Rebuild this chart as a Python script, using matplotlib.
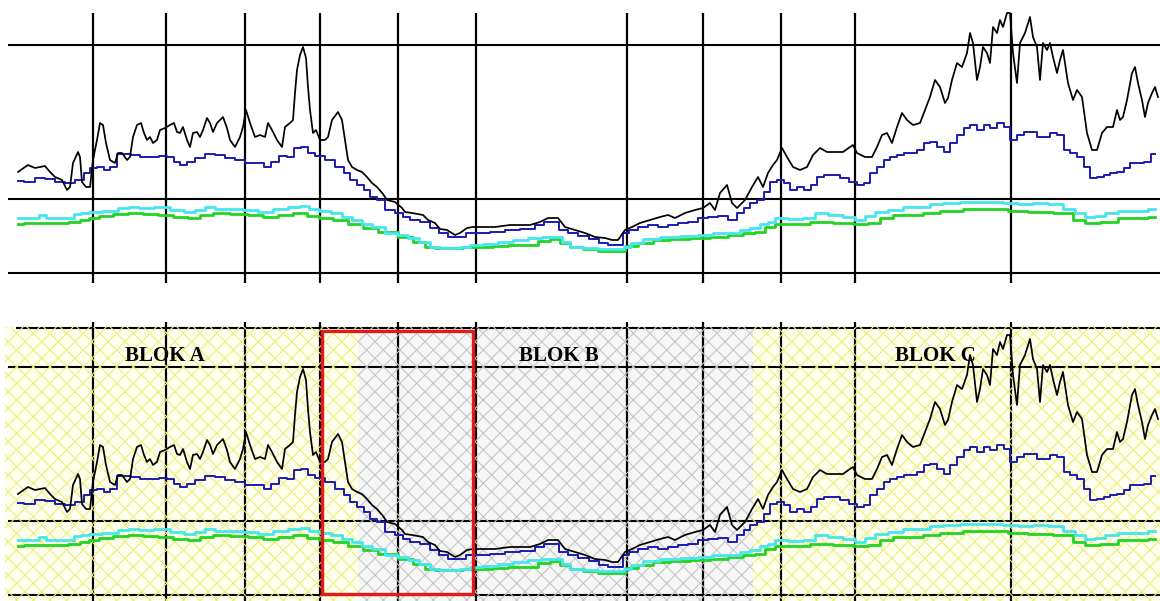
import matplotlib
matplotlib.use("Agg")
import matplotlib.pyplot as plt
from matplotlib.patches import Rectangle

# readings: day index and level of each series (arbitrary units)
black_t = [18, 25, 28, 35, 45, 50, 55, 62, 67, 70, 73, 78, 80, 82, 86, 90, 93, 97, 100, 103,
           106, 110, 115, 118, 122, 127, 130, 133, 137, 141, 144, 147, 150, 153, 157, 160, 165, 170, 174, 177,
           180, 183, 187, 190, 193, 197, 200, 203, 207, 210, 213, 217, 220, 223, 227, 230, 235, 240, 243, 246,
           250, 255, 260, 265, 268, 272, 277, 282, 285, 290, 293, 295, 297, 300, 303, 306, 308, 310, 313, 316,
           320, 325, 328, 332, 338, 342, 345, 348, 352, 357, 362, 367, 372, 377, 383, 387, 395, 402, 405, 412,
           423, 428, 435, 440, 447, 455, 460, 467, 473, 480, 495, 510, 530, 540, 548, 558, 565, 575, 585, 595,
           605, 612, 618, 625, 632, 640, 650, 660, 668, 675, 685, 695, 703, 710, 715, 720, 727, 732, 737, 745,
           752, 758, 763, 768, 773, 777, 782, 787, 793, 800, 807, 813, 820, 827, 835, 843, 850, 853, 857, 865,
           872, 877, 882, 887, 892, 897, 902, 907, 913, 920, 925, 930, 935, 940, 945, 948, 952, 957, 962, 967,
           970, 973, 977, 980, 983, 987, 990, 993, 997, 1000, 1003, 1007, 1010, 1013, 1017, 1020, 1025, 1030, 1033, 1037,
           1040, 1043, 1047, 1050, 1053, 1057, 1060, 1063, 1068, 1073, 1077, 1082, 1087, 1092, 1097, 1102, 1107, 1113, 1117, 1120,
           1123, 1127, 1132, 1135, 1138, 1142, 1145, 1148, 1152, 1155, 1158]
black_v = [128, 133, 135, 132, 134, 128, 123, 120, 110, 113, 137, 148, 143, 118, 113, 113, 140, 160, 177, 175,
           157, 140, 137, 147, 147, 140, 143, 163, 175, 177, 167, 160, 163, 157, 160, 170, 172, 175, 177, 168,
           167, 173, 160, 153, 167, 168, 163, 170, 182, 177, 168, 177, 180, 183, 172, 160, 153, 163, 173, 190,
           177, 163, 165, 163, 177, 170, 160, 153, 173, 177, 180, 207, 230, 245, 253, 242, 213, 190, 167, 170,
           160, 160, 163, 180, 188, 180, 160, 140, 133, 130, 128, 123, 117, 113, 106, 100, 98, 92, 88, 87,
           85, 80, 77, 71, 70, 65, 67, 72, 73, 73, 73, 75, 75, 78, 82, 82, 73, 70, 67, 63,
           62, 60, 60, 70, 73, 77, 80, 83, 85, 82, 87, 90, 92, 97, 90, 107, 115, 97, 92, 100,
           113, 123, 113, 127, 135, 140, 152, 143, 133, 130, 133, 145, 152, 148, 148, 148, 153, 155, 147, 143,
           143, 153, 165, 167, 157, 173, 187, 180, 175, 177, 190, 203, 220, 213, 197, 202, 220, 237, 233, 247,
           267, 257, 220, 233, 253, 247, 237, 273, 267, 280, 273, 287, 287, 247, 217, 257, 267, 283, 263, 253,
           220, 257, 250, 257, 243, 227, 240, 250, 217, 200, 210, 203, 167, 150, 150, 167, 173, 173, 190, 180,
           183, 200, 227, 233, 217, 200, 183, 197, 207, 213, 203]

blue_t = [18, 30, 40, 50, 60, 70, 80, 87, 93, 100, 107, 113, 120, 127, 135, 145, 155, 163, 170, 177,
          183, 190, 200, 210, 220, 230, 240, 250, 260, 267, 275, 283, 290, 297, 305, 310, 320, 330, 340, 347,
          353, 360, 367, 373, 380, 390, 400, 405, 415, 425, 435, 443, 453, 462, 470, 480, 500, 510, 530, 540,
          548, 555, 563, 573, 583, 595, 603, 613, 620, 625, 633, 643, 653, 663, 673, 683, 693, 703, 713, 723,
          733, 740, 747, 753, 760, 767, 773, 780, 787, 793, 800, 808, 813, 820, 827, 835, 845, 853, 860, 867,
          873, 880, 887, 893, 900, 907, 913, 920, 927, 933, 940, 947, 953, 960, 967, 973, 980, 987, 993, 1000,
          1007, 1013, 1020, 1027, 1033, 1040, 1047, 1053, 1060, 1067, 1073, 1080, 1087, 1093, 1100, 1107, 1113, 1120, 1127, 1133,
          1140, 1147, 1155]
blue_v = [119, 118, 122, 121, 118, 117, 120, 127, 132, 133, 130, 133, 146, 146, 145, 143, 143, 144, 143, 138,
          135, 138, 142, 146, 145, 142, 140, 137, 137, 133, 138, 144, 143, 152, 153, 147, 144, 140, 133, 127,
          120, 115, 110, 103, 100, 90, 87, 83, 80, 78, 72, 67, 63, 63, 67, 67, 68, 70, 71, 75,
          78, 78, 70, 67, 64, 61, 57, 55, 55, 67, 70, 73, 75, 73, 75, 77, 78, 82, 83, 84,
          80, 87, 92, 97, 100, 108, 118, 120, 117, 110, 113, 110, 115, 123, 125, 125, 122, 118, 115, 117,
          127, 133, 140, 143, 145, 147, 147, 150, 157, 158, 153, 148, 157, 165, 172, 175, 170, 175, 172, 177,
          173, 160, 165, 168, 168, 163, 163, 167, 165, 150, 147, 143, 133, 122, 123, 125, 127, 128, 132, 137,
          137, 138, 146]

cyan_t = [18, 35, 42, 50, 70, 77, 85, 93, 110, 125, 133, 145, 163, 177, 190, 200, 210, 220, 235, 250,
          265, 280, 295, 305, 313, 325, 337, 347, 357, 367, 377, 393, 403, 413, 425, 435, 445, 455, 465, 475,
          490, 505, 520, 535, 548, 558, 565, 575, 590, 605, 620, 627, 635, 650, 670, 690, 705, 720, 735, 745,
          755, 765, 770, 780, 795, 810, 820, 835, 850, 860, 870, 880, 895, 910, 925, 935, 950, 970, 995, 1010,
          1025, 1040, 1055, 1070, 1080, 1090, 1100, 1110, 1125, 1140, 1155]
cyan_v = [82, 82, 85, 82, 82, 86, 87, 88, 89, 92, 93, 92, 93, 90, 88, 90, 93, 91, 91, 90,
          88, 91, 93, 94, 91, 89, 87, 83, 80, 76, 73, 67, 65, 62, 58, 53, 52, 52, 53, 55,
          56, 58, 60, 62, 63, 63, 58, 53, 52, 51, 51, 53, 57, 61, 63, 64, 65, 67, 67, 70,
          72, 76, 78, 82, 81, 82, 87, 85, 83, 80, 84, 88, 90, 93, 93, 96, 97, 98, 98, 97,
          96, 97, 96, 91, 87, 83, 84, 87, 89, 89, 91]

green_t = [18, 30, 45, 60, 75, 85, 93, 105, 120, 135, 150, 165, 180, 195, 205, 220, 240, 255, 270, 285,
           300, 313, 325, 340, 355, 370, 385, 390, 405, 420, 430, 440, 455, 470, 485, 500, 515, 530, 545, 555,
           565, 575, 590, 605, 620, 630, 645, 660, 680, 700, 720, 735, 750, 760, 770, 780, 800, 820, 845, 860,
           875, 885, 900, 915, 930, 950, 975, 1000, 1015, 1040, 1065, 1080, 1090, 1110, 1125, 1140, 1155]
green_v = [76, 77, 77, 77, 78, 80, 82, 84, 86, 87, 86, 85, 83, 82, 85, 87, 86, 85, 83, 85,
           87, 84, 82, 80, 76, 72, 68, 68, 63, 58, 53, 52, 52, 53, 53, 54, 55, 55, 59, 61,
           57, 53, 51, 49, 49, 54, 57, 60, 61, 62, 63, 65, 67, 68, 73, 76, 76, 78, 77, 76,
           77, 82, 85, 85, 87, 89, 91, 91, 89, 88, 87, 80, 77, 78, 82, 82, 83]

# grid
grid_x = [93, 166, 245, 320, 398, 476, 627, 703, 781, 855, 1011]
grid_levels = [255, 101, 27]
upper_level = 294

# blocks of the lower panel
block_labels = ["BLOK A", "BLOK B", "BLOK C"]
block_edges = [5, 358, 753, 1160]
block_label_x = [165, 559, 935]
block_label_y = 266
window = (322, 473)

YELLOW_FACE, YELLOW_HATCH = "#ffffee", "#eded7c"
GREY_FACE, GREY_HATCH = "#f6f6f6", "#c6c6c6"

plt.rcParams["hatch.linewidth"] = 0.8

fig = plt.figure(figsize=(11.6, 6.01), dpi=100)
W, H = 1160, 601
ax_top = fig.add_axes([0, 1 - 300 / H, 1, 300 / H])
ax_bot = fig.add_axes([0, 0, 1, 301 / H])


def draw_series(ax):
    ax.plot(green_t, green_v, color="#22d422", lw=2.0, drawstyle="steps-mid", zorder=4)
    ax.plot(cyan_t, cyan_v, color="#45e6ee", lw=2.0, drawstyle="steps-mid", zorder=4)
    ax.plot(blue_t, blue_v, color="#1c1cb0", lw=1.4, drawstyle="steps-mid", zorder=4)
    ax.plot(black_t, black_v, color="black", lw=1.25, zorder=4)


# upper panel
ax_top.set_xlim(0, W)
ax_top.set_ylim(0, 300)
ax_top.axis("off")
ax_top.hlines(grid_levels, 8, W, color="black", lw=1.5, zorder=1)
ax_top.vlines(grid_x, 17, 287, color="black", lw=1.6, zorder=1)
draw_series(ax_top)

# lower panel
ax_bot.set_xlim(0, W)
ax_bot.set_ylim(21, 322)
ax_bot.axis("off")
styles = [(YELLOW_FACE, YELLOW_HATCH), (GREY_FACE, GREY_HATCH), (YELLOW_FACE, YELLOW_HATCH)]
for i, (face, hatch) in enumerate(styles):
    x0, x1 = block_edges[i], block_edges[i + 1]
    ax_bot.add_patch(Rectangle((x0, 0), x1 - x0, 295, facecolor=face, edgecolor="none", zorder=0))
    ax_bot.add_patch(Rectangle((x0, 0), x1 - x0, 295, facecolor="none", edgecolor=hatch,
                               lw=0, hatch="xx", zorder=2))
    ax_bot.text(block_label_x[i], block_label_y, block_labels[i], ha="center", va="center",
                fontsize=15, fontweight="bold", family="Liberation Serif", zorder=3)

ax_bot.hlines(grid_levels, 8, W, color="black", lw=1.5, zorder=1)
ax_bot.hlines(upper_level, 16, W, color="black", lw=1.5, zorder=1)
ax_bot.vlines(grid_x, 0, 300, color="black", lw=1.6, zorder=1)
draw_series(ax_bot)
ax_bot.add_patch(Rectangle((window[0], 28), window[1] - window[0], 263, facecolor="none",
                           edgecolor="#dd1c1c", lw=2.4, zorder=5))

fig.savefig("out.png", dpi=100)
